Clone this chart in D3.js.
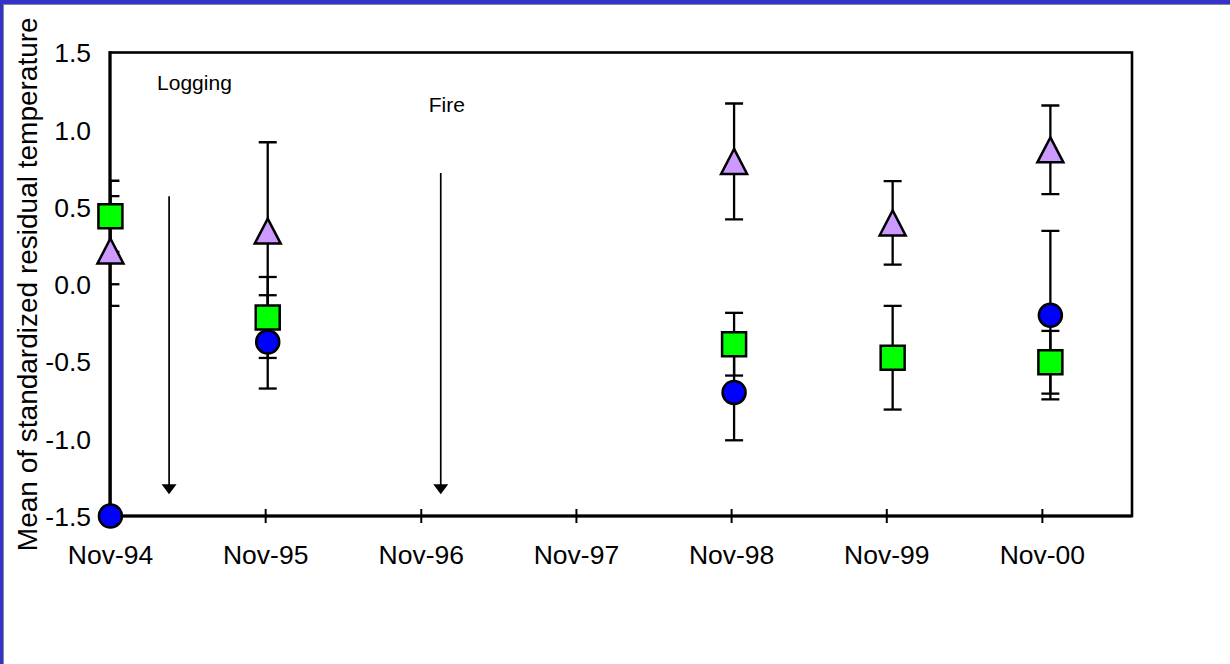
<!DOCTYPE html>
<html>
<head>
<meta charset="utf-8">
<script src="https://cdn.jsdelivr.net/npm/d3@7"></script>
<style>
  html, body { margin: 0; padding: 0; background: #fff; }
  svg { display: block; font-family: 'Liberation Sans', Arial, sans-serif; }
</style>
</head>
<body>
<div id="chart"></div>
<script>
// sampling dates and values
const sampleDates = ['1994-11-02', '1995-11-07', '1998-11-08', '1999-11-16', '2000-11-21'];

const circleValues = [-1.5, -0.373, -0.70, null, -0.20];
const circleErrors = [1.5, 0.302, 0.31, null, 0.545];

const squareValues = [0.44, -0.215, -0.388, -0.4755, -0.505];
const squareErrors = [0.23, 0.262, 0.203, 0.3355, 0.203];

const triangleValues = [0.215, 0.344, 0.795, 0.397, 0.87];
const triangleErrors = [0.355, 0.575, 0.375, 0.27, 0.287];

const tickDates = ['1994-11-01', '1995-11-01', '1996-11-01', '1997-11-01', '1998-11-01', '1999-11-01', '2000-11-01'];
const yTicks = [-1.5, -1.0, -0.5, 0.0, 0.5, 1.0, 1.5];

// events marked with arrows: date, arrow top, arrow tip, label height (data units)
const eventLabels = ['Logging', 'Fire'];
const eventDates = ['1995-03-20', '1996-12-18'];
const eventTops = [0.57, 0.72];
const eventTips = [-1.36, -1.36];
const eventTextY = [1.257, 1.115];

const yTitle = 'Mean of standardized residual temperature';

const parse = d3.timeParse('%Y-%m-%d');
const width = 1230, height = 664;
const plot = {left: 110, top: 52.5, right: 1132, bottom: 516};

const svg = d3.select('#chart').append('svg')
  .attr('width', width)
  .attr('height', height);

// outer frame: blue band on top and left, thin gray line inside
svg.append('rect').attr('width', width).attr('height', height).attr('fill', '#fff');
svg.append('rect').attr('x', 0).attr('y', 0).attr('width', width).attr('height', 4).attr('fill', '#3333cc');
svg.append('rect').attr('x', 0).attr('y', 0).attr('width', 3).attr('height', height).attr('fill', '#3333cc');
svg.append('line').attr('x1', 3.5).attr('x2', 3.5).attr('y1', 4).attr('y2', height)
  .attr('stroke', '#888').attr('stroke-width', 1);
svg.append('line').attr('x1', 3).attr('x2', width).attr('y1', 4.5).attr('y2', 4.5)
  .attr('stroke', '#888').attr('stroke-width', 1);

const x = d3.scaleTime()
  .domain([parse('1994-11-01'), parse('2001-06-01')])
  .range([plot.left, plot.right]);

const y = d3.scaleLinear()
  .domain([-1.5, 1.5])
  .range([plot.bottom, plot.top]);

svg.append('defs').append('clipPath').attr('id', 'plotClip')
  .append('rect')
  .attr('x', plot.left).attr('y', plot.top)
  .attr('width', plot.right - plot.left).attr('height', plot.bottom - plot.top);

// x axis with ticks crossing the line
const xAxis = svg.append('g')
  .attr('transform', `translate(0,${plot.bottom})`)
  .call(d3.axisBottom(x)
    .tickValues(tickDates.map(parse))
    .tickFormat(d3.timeFormat('%b-%y'))
    .tickSizeOuter(0));
xAxis.select('.domain').remove();
xAxis.selectAll('.tick line')
  .attr('y1', -7).attr('y2', 7)
  .attr('stroke', '#000').attr('stroke-width', 2);
xAxis.selectAll('.tick text')
  .attr('y', 48).attr('dy', 0)
  .attr('fill', '#000')
  .style('font-size', '26.5px')
  .style('font-family', "'Liberation Sans', Arial, sans-serif");

const yAxis = svg.append('g')
  .attr('transform', `translate(${plot.left},0)`)
  .call(d3.axisLeft(y)
    .tickValues(yTicks)
    .tickFormat((d) => d.toFixed(1))
    .tickSize(0)
    .tickPadding(19));
yAxis.select('.domain').remove();
yAxis.selectAll('.tick text')
  .attr('fill', '#000')
  .attr('dy', '0.35em')
  .style('font-size', '26.5px')
  .style('font-family', "'Liberation Sans', Arial, sans-serif");

// plot frame
svg.append('rect')
  .attr('x', plot.left).attr('y', plot.top)
  .attr('width', plot.right - plot.left).attr('height', plot.bottom - plot.top)
  .attr('fill', 'none').attr('stroke', '#000').attr('stroke-width', 2.6);
svg.append('line')
  .attr('x1', plot.left).attr('x2', plot.left).attr('y1', plot.top - 1.3).attr('y2', plot.bottom)
  .attr('stroke', '#000').attr('stroke-width', 3);
svg.append('line')
  .attr('x1', plot.left).attr('x2', plot.right).attr('y1', plot.bottom).attr('y2', plot.bottom)
  .attr('stroke', '#000').attr('stroke-width', 3);

// y title
svg.append('text')
  .attr('transform', `translate(37,${(plot.top + plot.bottom) / 2}) rotate(-90)`)
  .attr('text-anchor', 'middle')
  .style('font-size', '28px')
  .attr('fill', '#000')
  .text(yTitle);

// events: label + arrow
const events = eventLabels.map((label, i) => ({
  label,
  date: parse(eventDates[i]),
  top: eventTops[i],
  tip: eventTips[i],
  textY: eventTextY[i],
}));

const ev = svg.append('g').selectAll('g').data(events).join('g');
ev.append('text')
  .attr('x', (d) => x(d.date) - 12)
  .attr('y', (d) => y(d.textY))
  .style('font-size', '21px')
  .attr('fill', '#000')
  .text((d) => d.label);
ev.append('line')
  .attr('x1', (d) => x(d.date)).attr('x2', (d) => x(d.date))
  .attr('y1', (d) => y(d.top)).attr('y2', (d) => y(d.tip) - 8)
  .attr('stroke', '#000').attr('stroke-width', 1.7);
ev.append('path')
  .attr('d', (d) => {
    const cx = x(d.date), ty = y(d.tip);
    return `M${cx},${ty} L${cx - 7.5},${ty - 10} L${cx + 7.5},${ty - 10} Z`;
  })
  .attr('fill', '#000');

// series
const dates = sampleDates.map(parse);
const makePoints = (values, errors) => dates
  .map((date, i) => ({date, value: values[i], err: errors[i]}))
  .filter((d) => d.value !== null);

const series = [
  {shape: 'circle', fill: '#0000ff', points: makePoints(circleValues, circleErrors)},
  {shape: 'square', fill: '#00ff00', points: makePoints(squareValues, squareErrors)},
  {shape: 'triangle', fill: '#cc99ff', points: makePoints(triangleValues, triangleErrors)},
];

// error bars first, clipped to the plot
const errG = svg.append('g').attr('clip-path', 'url(#plotClip)');
series.forEach((s) => {
  const g = errG.append('g').selectAll('g').data(s.points).join('g');
  g.append('line')
    .attr('x1', (d) => x(d.date)).attr('x2', (d) => x(d.date))
    .attr('y1', (d) => y(d.value + d.err)).attr('y2', (d) => y(d.value - d.err))
    .attr('stroke', '#000').attr('stroke-width', 2.3);
  [1, -1].forEach((sign) => {
    g.append('line')
      .attr('x1', (d) => x(d.date) - 9).attr('x2', (d) => x(d.date) + 9)
      .attr('y1', (d) => y(d.value + sign * d.err)).attr('y2', (d) => y(d.value + sign * d.err))
      .attr('stroke', '#000').attr('stroke-width', 2.3);
  });
});

// markers
const shapePath = {
  circle: d3.symbol(d3.symbolCircle, Math.PI * 11.5 * 11.5)(),
  square: 'M-12,-12H12V12H-12Z',
  triangle: 'M0,-12.5L13,12.5L-13,12.5Z',
};

series.forEach((s) => {
  svg.append('g').selectAll('path').data(s.points).join('path')
    .attr('transform', (d) => `translate(${x(d.date)},${y(d.value)})`)
    .attr('d', shapePath[s.shape])
    .attr('fill', s.fill)
    .attr('stroke', '#000')
    .attr('stroke-width', 2.5);
});
</script>
</body>
</html>
